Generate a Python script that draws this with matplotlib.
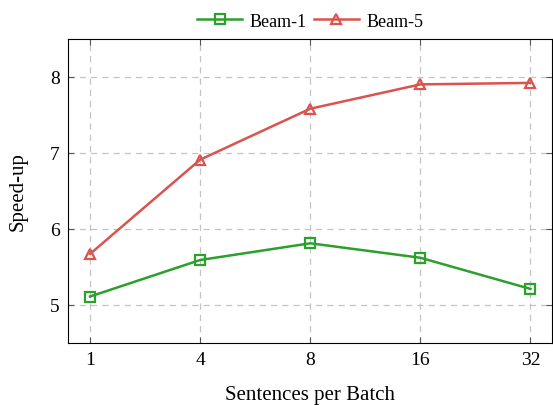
import matplotlib.pyplot as plt

plt.rcParams['font.family'] = ['Liberation Serif', 'DejaVu Serif']

batch_sizes = ["1", "4", "8", "16", "32"]
beam1 = [5.11, 5.59, 5.81, 5.62, 5.21]
beam5 = [5.67, 6.91, 7.58, 7.90, 7.92]

fig = plt.figure(figsize=(5.53, 4.06), dpi=100)
ax = fig.add_axes([0.123, 0.153, 0.876, 0.749])

x = range(len(batch_sizes))
ax.plot(x, beam1, color='#2ca02c', marker='s', markerfacecolor='none',
        markeredgewidth=1.6, markersize=7, linewidth=1.8, label="Beam-1")
ax.plot(x, beam5, color='#d9534f', marker='^', markerfacecolor='none',
        markeredgewidth=1.6, markersize=7, linewidth=1.8, label="Beam-5")

ax.set_xlim(-0.2, 4.2)
ax.set_ylim(4.5, 8.5)
ax.set_xticks(list(x))
ax.set_xticklabels(batch_sizes)
ax.set_yticks([5, 6, 7, 8])
ax.tick_params(direction='in', top=True, right=True, labelsize=14, length=4,
               color='#555555', pad=6)
ax.grid(True, linestyle=(0, (5, 4)), color='#c4c4c4', linewidth=0.9)
ax.set_axisbelow(True)

ax.set_xlabel("Sentences per Batch", fontsize=15, labelpad=12)
ax.set_ylabel("Speed-up", fontsize=15, labelpad=16)

ax.legend(loc='lower center', bbox_to_anchor=(0.5, 1.0), ncol=2, frameon=False,
          fontsize=13, handlelength=2.5, columnspacing=0.4, handletextpad=0.4,
          borderaxespad=0.1)

plt.savefig('out.png', dpi=100)
